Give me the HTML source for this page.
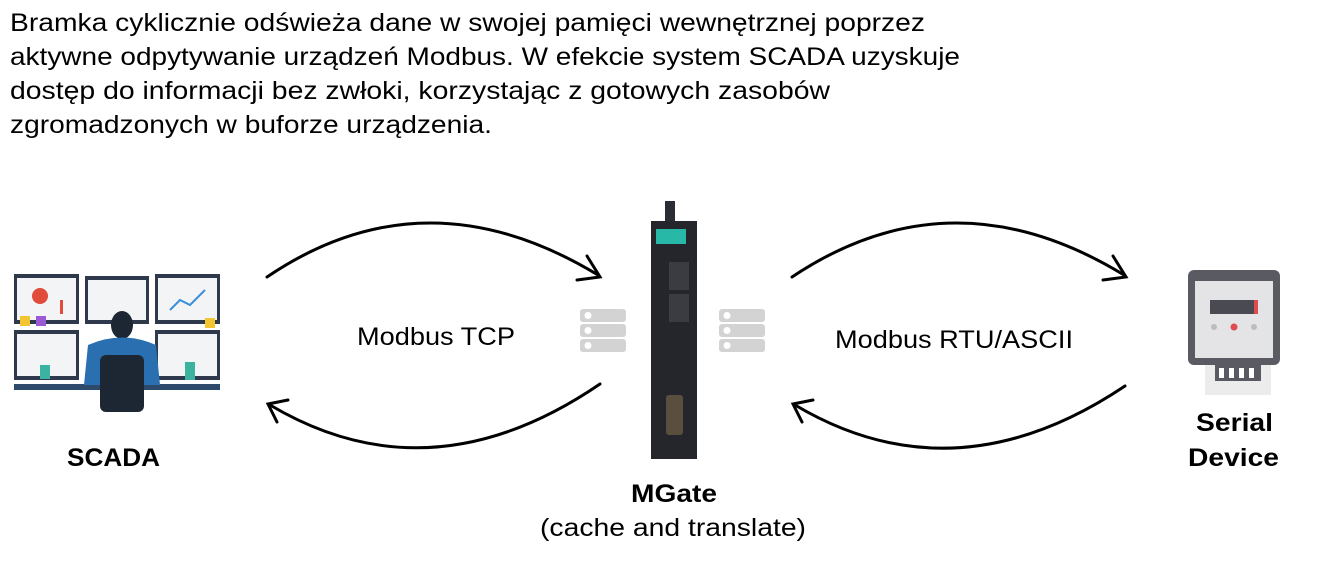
<!DOCTYPE html>
<html><head><meta charset="utf-8"><style>
html,body{margin:0;padding:0;background:#fff;}
svg{display:block;}
text{font-family:"Liberation Sans",sans-serif;fill:#000;}
</style></head><body>
<svg width="1328" height="573" viewBox="0 0 1328 573" xmlns="http://www.w3.org/2000/svg">
<defs>
<g id="srv">
<rect x="0" y="0" width="46" height="13" rx="3" fill="#d3d3d3"/>
<rect x="0" y="15" width="46" height="13" rx="3" fill="#d3d3d3"/>
<rect x="0" y="30" width="46" height="13" rx="3" fill="#d3d3d3"/>
<circle cx="8" cy="6.5" r="3.5" fill="#fff"/><circle cx="8" cy="21.5" r="3.5" fill="#fff"/><circle cx="8" cy="36.5" r="3.5" fill="#fff"/>
</g>
</defs>
<text x="10" y="31" font-size="25" textLength="915" lengthAdjust="spacingAndGlyphs">Bramka cyklicznie odświeża dane w swojej pamięci wewnętrznej poprzez</text>
<text x="10" y="65" font-size="25" textLength="950" lengthAdjust="spacingAndGlyphs">aktywne odpytywanie urządzeń Modbus. W efekcie system SCADA uzyskuje</text>
<text x="10" y="99" font-size="25" textLength="820" lengthAdjust="spacingAndGlyphs">dostęp do informacji bez zwłoki, korzystając z gotowych zasobów</text>
<text x="10" y="133" font-size="25" textLength="482" lengthAdjust="spacingAndGlyphs">zgromadzonych w buforze urządzenia.</text>

<g fill="none" stroke="#000" stroke-width="3" stroke-linecap="round">
<path d="M267 277 Q425 170 598 275"/>
<path d="M587 256 L600 277 L577 280"/>
<path d="M600 384 Q430 500 270 405"/>
<path d="M288 400 L268 404 L277 422"/>
<path d="M792 277 Q952 170 1124 275"/>
<path d="M1113 256 L1126 277 L1103 280"/>
<path d="M1125 386 Q955 500 795 405"/>
<path d="M813 400 L793 404 L802 422"/>
</g>

<text x="357" y="345" font-size="25" textLength="158" lengthAdjust="spacingAndGlyphs">Modbus TCP</text>
<text x="835" y="348" font-size="25" textLength="238" lengthAdjust="spacingAndGlyphs">Modbus RTU/ASCII</text>

<use href="#srv" x="580" y="309"/>
<use href="#srv" x="719" y="309"/>

<!-- SCADA -->
<g>
<rect x="14" y="272" width="206" height="120" fill="#fff"/>
<rect x="14" y="274" width="65" height="50" fill="#2e3a4c"/><rect x="17" y="278" width="59" height="42" fill="#f2f4f6"/>
<rect x="85" y="276" width="64" height="48" fill="#2e3a4c"/><rect x="88" y="280" width="58" height="40" fill="#f2f4f6"/>
<rect x="155" y="274" width="65" height="50" fill="#2e3a4c"/><rect x="158" y="278" width="59" height="42" fill="#f2f4f6"/>
<rect x="14" y="330" width="65" height="50" fill="#2e3a4c"/><rect x="17" y="334" width="59" height="42" fill="#f2f4f6"/>
<rect x="155" y="330" width="65" height="50" fill="#2e3a4c"/><rect x="158" y="334" width="59" height="42" fill="#f2f4f6"/>
<circle cx="40" cy="296" r="8" fill="#e04b3a"/>
<rect x="60" y="300" width="3" height="14" fill="#e04b3a"/>
<path d="M170 310 L180 300 L190 305 L205 290" stroke="#3a8fd8" stroke-width="2" fill="none"/>
<rect x="20" y="316" width="10" height="10" fill="#f2c531"/><rect x="36" y="316" width="10" height="10" fill="#9b59d6"/>
<rect x="205" y="318" width="10" height="10" fill="#f2c531"/>
<rect x="14" y="384" width="206" height="6" fill="#2e4a6a"/>
<ellipse cx="122" cy="325" rx="11" ry="14" fill="#1d2633"/>
<path d="M88 345 Q122 330 156 345 L160 385 L84 385 Z" fill="#2a6fb0"/>
<rect x="100" y="355" width="44" height="57" rx="6" fill="#1d2633"/>
<rect x="40" y="365" width="10" height="14" fill="#3bb3a0"/><rect x="185" y="362" width="10" height="18" fill="#3bb3a0"/>
</g>
<text x="67" y="466" font-size="25" font-weight="bold" textLength="93" lengthAdjust="spacingAndGlyphs">SCADA</text>

<!-- MGate -->
<rect x="665" y="201" width="10" height="22" fill="#2a2d33"/>
<rect x="651" y="221" width="46" height="238" fill="#24262c"/>
<rect x="656" y="229" width="30" height="15" fill="#27b8a8"/>
<rect x="669" y="262" width="20" height="28" fill="#3a3c42"/>
<rect x="669" y="294" width="20" height="28" fill="#3a3c42"/>
<rect x="666" y="395" width="17" height="40" rx="3" fill="#5a4f3e"/>
<text x="631" y="502" font-size="25" font-weight="bold" textLength="86" lengthAdjust="spacingAndGlyphs">MGate</text>
<text x="540" y="536" font-size="25" textLength="266" lengthAdjust="spacingAndGlyphs">(cache and translate)</text>

<!-- Meter -->
<rect x="1205" y="365" width="66" height="30" fill="#ececec"/>
<rect x="1215" y="365" width="46" height="16" fill="#5a5a62"/>
<rect x="1219" y="368" width="5" height="10" fill="#fff"/><rect x="1229" y="368" width="5" height="10" fill="#fff"/><rect x="1239" y="368" width="5" height="10" fill="#fff"/><rect x="1249" y="368" width="5" height="10" fill="#fff"/>
<rect x="1188" y="270" width="92" height="95" rx="6" fill="#5a5a62"/>
<rect x="1195" y="281" width="78" height="77" fill="#e4e4e6"/>
<rect x="1210" y="300" width="48" height="14" fill="#4a4a52"/><rect x="1254" y="300" width="4" height="14" fill="#e04b50"/>
<circle cx="1214" cy="327" r="3" fill="#bbb"/><circle cx="1234" cy="327" r="3.5" fill="#e04b50"/><circle cx="1254" cy="327" r="3" fill="#bbb"/>
<text x="1196" y="431" font-size="25" font-weight="bold" textLength="77" lengthAdjust="spacingAndGlyphs">Serial</text>
<text x="1188" y="466" font-size="25" font-weight="bold" textLength="91" lengthAdjust="spacingAndGlyphs">Device</text>
</svg>
</body></html>
